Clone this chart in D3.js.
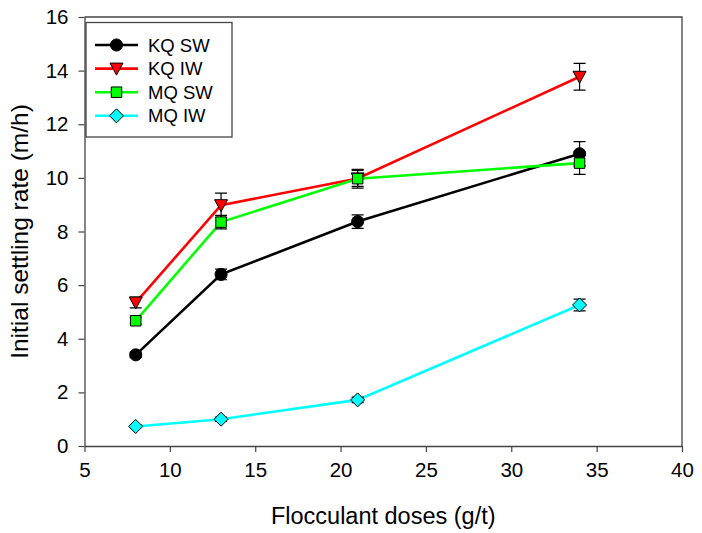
<!DOCTYPE html>
<html><head><meta charset="utf-8">
<script src="https://cdn.jsdelivr.net/npm/d3@7/dist/d3.min.js"></script>
<style>body{margin:0;background:#fff}svg{display:block;font-family:Arial,"Liberation Sans",sans-serif}</style>
</head><body><svg id="c" width="702" height="533"></svg>
<script>
const doses = [8, 13, 21, 34];
const seriesNames = ["KQ SW", "KQ IW", "MQ SW", "MQ IW"];
const kqSW = [3.4, 6.4, 8.37, 10.9];
const kqSWerr = [0.1, 0.2, 0.25, 0.45];
const kqIW = [5.35, 8.98, 9.98, 13.77];
const kqIWerr = [0.2, 0.45, 0.3, 0.5];
const mqSW = [4.67, 8.35, 9.97, 10.55];
const mqSWerr = [0.12, 0.25, 0.35, 0.42];
const mqIW = [0.73, 1.0, 1.72, 5.26];
const mqIWerr = [0.05, 0.08, 0.1, 0.22];
const xTicks = [5, 10, 15, 20, 25, 30, 35, 40];
const yTicks = [0, 2, 4, 6, 8, 10, 12, 14, 16];
const colors = ["#000000", "#ff0000", "#00ff00", "#00ffff"];
const symbols = ["circle", "triangle", "square", "diamond"];

const series = [
  {name: seriesNames[0], v: kqSW, e: kqSWerr},
  {name: seriesNames[1], v: kqIW, e: kqIWerr},
  {name: seriesNames[2], v: mqSW, e: mqSWerr},
  {name: seriesNames[3], v: mqIW, e: mqIWerr}
];

const L = 84.5, R = 682, T = 17, B = 446;
const svg = d3.select("#c");
const x = d3.scaleLinear().domain([5, 40]).range([L, R]);
const y = d3.scaleLinear().domain([0, 16]).range([B, T]);

// frame
svg.append("path").attr("d", `M${L},${T}H${R}V${B}`).attr("fill","none").attr("stroke","#444").attr("stroke-width",1.3);

const gx = svg.append("g").attr("transform", `translate(0,${B})`)
  .call(d3.axisBottom(x).tickValues(xTicks).tickSize(6).tickPadding(10).tickSizeOuter(0));
const gy = svg.append("g").attr("transform", `translate(${L},0)`)
  .call(d3.axisLeft(y).tickValues(yTicks).tickSize(6).tickPadding(10).tickSizeOuter(0));
[gx, gy].forEach(g => {
  g.select(".domain").attr("stroke","#444").attr("stroke-width",1.3);
  g.selectAll(".tick line").attr("stroke","#444").attr("stroke-width",1.2);
  g.selectAll(".tick text").attr("font-size",20.5).attr("fill","#000").attr("font-family","Arial, Liberation Sans, sans-serif");
});

svg.append("text").attr("x", (L+R)/2).attr("y", 524).attr("text-anchor","middle")
  .attr("font-size",23.5).text("Flocculant doses (g/t)");
svg.append("text").attr("transform", `translate(28,${(T+B)/2}) rotate(-90)`).attr("text-anchor","middle")
  .attr("font-size",24.5).text("Initial settling rate (m/h)");

function sym(type) {
  if (type === "circle") return d3.symbol(d3.symbolCircle, 115)();
  if (type === "square") return d3.symbol(d3.symbolSquare, 110)();
  if (type === "triangle") return "M-6.5,-5.5L6.5,-5.5L0,6.5Z";
  return "M0,-7L7,0L0,7L-7,0Z";
}

const line = d3.line().x((d,i) => x(doses[i])).y(d => y(d));
series.forEach((s, k) => {
  svg.append("path").attr("d", line(s.v)).attr("fill","none").attr("stroke", colors[k]).attr("stroke-width",2.6);
});
series.forEach((s, k) => {
  const g = svg.append("g");
  s.v.forEach((v, i) => {
    const cx = x(doses[i]), y1 = y(v + s.e[i]), y0 = y(v - s.e[i]);
    g.append("path").attr("d", `M${cx},${y0}V${y1}M${cx-6},${y1}H${cx+6}M${cx-6},${y0}H${cx+6}`)
      .attr("stroke","#000").attr("stroke-width",1.2).attr("fill","none");
  });
  s.v.forEach((v, i) => {
    g.append("path").attr("d", sym(symbols[k])).attr("transform", `translate(${x(doses[i])},${y(v)})`)
      .attr("fill", colors[k]).attr("stroke","#000").attr("stroke-width",1);
  });
});

// legend
const lg = svg.append("g");
lg.append("rect").attr("x",86).attr("y",22.5).attr("width",146).attr("height",114.5)
  .attr("fill","#fff").attr("stroke","#444").attr("stroke-width",1.3);
series.forEach((s, k) => {
  const yy = 45 + k*23.6;
  lg.append("line").attr("x1",95).attr("x2",138).attr("y1",yy).attr("y2",yy).attr("stroke",colors[k]).attr("stroke-width",2.6);
  lg.append("path").attr("d", sym(symbols[k])).attr("transform", `translate(116.5,${yy})`)
    .attr("fill", colors[k]).attr("stroke","#000").attr("stroke-width",1);
  lg.append("text").attr("x",148).attr("y",yy+6.5).attr("font-size",18.5).text(s.name);
});
</script></body></html>
